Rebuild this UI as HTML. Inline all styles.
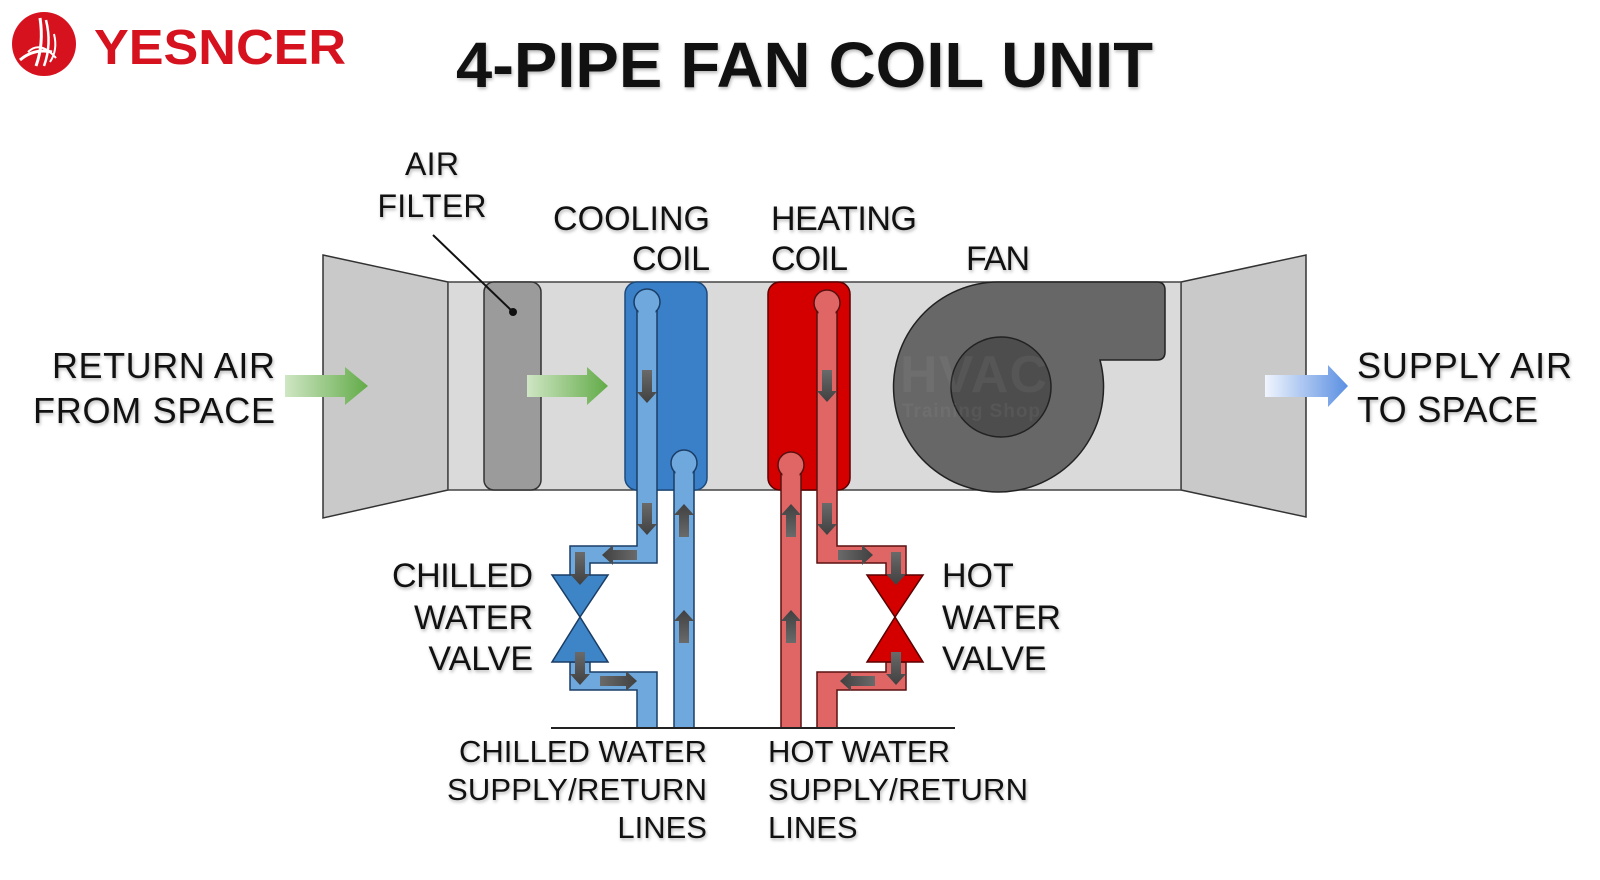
<!DOCTYPE html>
<html>
<head>
<meta charset="utf-8">
<style>
  html,body{margin:0;padding:0;background:#fff;}
  svg{display:block;}
  .t{font-family:"Liberation Sans",Arial,sans-serif;fill:#111;}
  .sh{filter:drop-shadow(1px 2px 1.5px rgba(0,0,0,0.28));}
</style>
</head>
<body>
<svg width="1600" height="880" viewBox="0 0 1600 880" xmlns="http://www.w3.org/2000/svg">
  <defs>
    <linearGradient id="gg" x1="0" y1="0" x2="1" y2="0">
      <stop offset="0" stop-color="#cfe6c4"/>
      <stop offset="1" stop-color="#62ab48"/>
    </linearGradient>
    <linearGradient id="bg" x1="0" y1="0" x2="1" y2="0">
      <stop offset="0" stop-color="#f1f5fd"/>
      <stop offset="1" stop-color="#5a8fe2"/>
    </linearGradient>
    <linearGradient id="ad" x1="0" y1="0" x2="0" y2="1">
      <stop offset="0" stop-color="#6a6a6a"/>
      <stop offset="1" stop-color="#404040"/>
    </linearGradient>
    <linearGradient id="au" x1="0" y1="1" x2="0" y2="0">
      <stop offset="0" stop-color="#6a6a6a"/>
      <stop offset="1" stop-color="#404040"/>
    </linearGradient>
    <linearGradient id="al" x1="1" y1="0" x2="0" y2="0">
      <stop offset="0" stop-color="#6a6a6a"/>
      <stop offset="1" stop-color="#404040"/>
    </linearGradient>
    <linearGradient id="ar" x1="0" y1="0" x2="1" y2="0">
      <stop offset="0" stop-color="#6a6a6a"/>
      <stop offset="1" stop-color="#404040"/>
    </linearGradient>
  </defs>

  <!-- Logo -->
  <circle cx="44" cy="44" r="32" fill="#d7121f"/>
  <path d="M20 60 Q34 48 52 52" stroke="#fff" stroke-width="3" fill="none"/>
  <path d="M36 66 Q44 44 40 18" stroke="#fff" stroke-width="3" fill="none"/>
  <path d="M44 66 Q52 44 46 20" stroke="#fff" stroke-width="2.5" fill="none"/>
  <path d="M50 62 Q58 50 54 34" stroke="#fff" stroke-width="2" fill="none"/>
  <path d="M28 52 Q40 40 56 58" stroke="#fff" stroke-width="2" fill="none"/>
  <text x="94" y="64" class="t" style="fill:#d7121f;font-size:49px;font-weight:600;" textLength="252" lengthAdjust="spacingAndGlyphs">YESNCER</text>

  <!-- Title -->
  <g class="sh">
    <text x="456" y="87" class="t" style="font-size:64px;font-weight:bold;" textLength="697" lengthAdjust="spacingAndGlyphs">4-PIPE FAN COIL UNIT</text>
  </g>

  <!-- Left trapezoid -->
  <polygon points="323,255 448,282 448,490 323,518" fill="#c9c9c9" stroke="#333" stroke-width="1.5"/>
  <!-- Right trapezoid -->
  <polygon points="1181,282 1306,255 1306,517 1181,490" fill="#c9c9c9" stroke="#333" stroke-width="1.5"/>
  <!-- Body -->
  <rect x="448" y="282" width="733" height="208" fill="#dadada" stroke="#444" stroke-width="1.5"/>

  <!-- Filter -->
  <rect x="484" y="282" width="57" height="208" rx="10" fill="#9b9b9b" stroke="#333" stroke-width="1.5"/>

  <!-- Cooling coil -->
  <rect x="625" y="282" width="82" height="208" rx="12" fill="#3a80c9" stroke="#1d4a7a" stroke-width="1.5"/>
  <!-- Heating coil -->
  <rect x="768" y="282" width="82" height="208" rx="12" fill="#d40000" stroke="#5a0000" stroke-width="1.5"/>

  <!-- Fan -->
  <path d="M998 282 L1157 282 Q1165 282 1165 290 L1165 352 Q1165 360 1157 360 L1100 360 A105 105 0 1 1 998 282 Z" fill="#676767" stroke="#222" stroke-width="1.5"/>
  <circle cx="1001" cy="387" r="50" fill="#4d4d4d" stroke="#222" stroke-width="1.5"/>
  <!-- watermark -->
  <text x="900" y="392" class="t" style="font-size:52px;font-weight:bold;fill:#fff;fill-opacity:0.05;" textLength="147">HVAC</text>
  <text x="902" y="417" class="t" style="font-size:19px;font-weight:bold;fill:#fff;fill-opacity:0.05;" textLength="138">Training Shop</text>

  <!-- Cooling pipes -->
  <g fill="#6fa8dc" stroke="#1a3d66" stroke-width="1.5">
    <path d="M637 302 L637 546 L570 546 L570 575 L590 575 L590 563 L657 563 L657 302 Z"/>
    <circle cx="647" cy="302" r="13"/>
    <rect x="638.5" y="303" width="17" height="20" stroke="none"/>
    <path d="M570 662 L570 690 L637 690 L637 728 L657 728 L657 672 L590 672 L590 662 Z"/>
    <rect x="674" y="463" width="20" height="265"/>
    <circle cx="684" cy="463" r="13"/>
    <rect x="675.5" y="464" width="17" height="20" stroke="none"/>
  </g>
  <!-- Hot pipes -->
  <g fill="#e06666" stroke="#5a1010" stroke-width="1.5">
    <path d="M817 303 L817 563 L886 563 L886 575 L906 575 L906 546 L837 546 L837 303 Z"/>
    <circle cx="827" cy="303" r="13"/>
    <rect x="818.5" y="304" width="17" height="20" stroke="none"/>
    <path d="M886 662 L886 672 L817 672 L817 728 L837 728 L837 690 L906 690 L906 662 Z"/>
    <rect x="781" y="465" width="20" height="263"/>
    <circle cx="791" cy="465" r="13"/>
    <rect x="782.5" y="466" width="17" height="20" stroke="none"/>
  </g>

  <!-- Valves -->
  <g fill="#3d85c6" stroke="#1a3d66" stroke-width="1.5">
    <polygon points="552,575 608,575 580,617"/>
    <polygon points="580,617 608,662 552,662"/>
  </g>
  <g fill="#d40000" stroke="#5a0000" stroke-width="1.5">
    <polygon points="867,575 923,575 895,617"/>
    <polygon points="895,617 923,662 867,662"/>
  </g>

  <!-- Bottom line -->
  <line x1="551" y1="728" x2="955" y2="728" stroke="#222" stroke-width="2"/>

  <!-- Flow arrows: down -->
  <g fill="url(#ad)">
    <path d="M642 370 h10 v22 h5 l-10 11 l-10 -11 h5 Z"/>
    <path d="M642 503 h10 v21 h5 l-10 11 l-10 -11 h5 Z"/>
    <path d="M575 552 h10 v22 h5 l-10 11 l-10 -11 h5 Z"/>
    <path d="M575 652 h10 v22 h5 l-10 11 l-10 -11 h5 Z"/>
    <path d="M822 370 h10 v21 h5 l-10 11 l-10 -11 h5 Z"/>
    <path d="M822 503 h10 v21 h5 l-10 11 l-10 -11 h5 Z"/>
    <path d="M891 552 h10 v22 h5 l-10 11 l-10 -11 h5 Z"/>
    <path d="M891 652 h10 v22 h5 l-10 11 l-10 -11 h5 Z"/>
  </g>
  <!-- up -->
  <g fill="url(#au)">
    <path d="M679 537 h10 v-22 h5 l-10 -11 l-10 11 h5 Z"/>
    <path d="M679 643 h10 v-22 h5 l-10 -11 l-10 11 h5 Z"/>
    <path d="M786 537 h10 v-22 h5 l-10 -11 l-10 11 h5 Z"/>
    <path d="M786 643 h10 v-22 h5 l-10 -11 l-10 11 h5 Z"/>
  </g>
  <!-- left -->
  <g fill="url(#al)">
    <path d="M637 550 v10 h-24 v5 l-11 -10 l11 -10 v5 Z"/>
    <path d="M875 676 v10 h-24 v5 l-11 -10 l11 -10 v5 Z"/>
  </g>
  <!-- right -->
  <g fill="url(#ar)">
    <path d="M600 676 v10 h26 v5 l11 -10 l-11 -10 v5 Z"/>
    <path d="M838 550 v10 h24 v5 l11 -10 l-11 -10 v5 Z"/>
  </g>

  <!-- Air arrows -->
  <path d="M285 375 L345 375 L345 367 L368 386 L345 405 L345 397 L285 397 Z" fill="url(#gg)"/>
  <path d="M527 375 L587 375 L587 367 L608 386 L587 405 L587 397 L527 397 Z" fill="url(#gg)"/>
  <path d="M1265 375 L1328 375 L1328 365 L1348 386 L1328 407 L1328 397 L1265 397 Z" fill="url(#bg)"/>

  <!-- Filter pointer -->
  <line x1="433" y1="235" x2="513" y2="312" stroke="#111" stroke-width="2"/>
  <circle cx="513" cy="312" r="4" fill="#111"/>

  <!-- Labels -->
  <g class="sh">
    <text x="432" y="175" class="t" text-anchor="middle" style="font-size:32px;" textLength="54">AIR</text>
    <text x="432" y="217" class="t" text-anchor="middle" style="font-size:32px;" textLength="109">FILTER</text>

    <text x="710" y="230" class="t" text-anchor="end" style="font-size:34px;" textLength="157">COOLING</text>
    <text x="710" y="270" class="t" text-anchor="end" style="font-size:34px;" textLength="78">COIL</text>

    <text x="771" y="230" class="t" style="font-size:34px;" textLength="146">HEATING</text>
    <text x="771" y="270" class="t" style="font-size:34px;" textLength="77">COIL</text>

    <text x="966" y="270" class="t" style="font-size:34px;" textLength="64">FAN</text>

    <text x="275" y="378" class="t" text-anchor="end" style="font-size:36px;" textLength="223">RETURN AIR</text>
    <text x="275" y="423" class="t" text-anchor="end" style="font-size:36px;" textLength="242">FROM SPACE</text>

    <text x="1357" y="378" class="t" style="font-size:36px;" textLength="215">SUPPLY AIR</text>
    <text x="1357" y="422" class="t" style="font-size:36px;" textLength="181">TO SPACE</text>

    <text x="533" y="587" class="t" text-anchor="end" style="font-size:34px;" textLength="141">CHILLED</text>
    <text x="533" y="629" class="t" text-anchor="end" style="font-size:34px;">WATER</text>
    <text x="533" y="670" class="t" text-anchor="end" style="font-size:34px;">VALVE</text>

    <text x="942" y="587" class="t" style="font-size:34px;">HOT</text>
    <text x="942" y="629" class="t" style="font-size:34px;">WATER</text>
    <text x="942" y="670" class="t" style="font-size:34px;">VALVE</text>

    <text x="707" y="762" class="t" text-anchor="end" style="font-size:31px;" textLength="248">CHILLED WATER</text>
    <text x="707" y="800" class="t" text-anchor="end" style="font-size:31px;" textLength="260">SUPPLY/RETURN</text>
    <text x="707" y="838" class="t" text-anchor="end" style="font-size:31px;">LINES</text>

    <text x="768" y="762" class="t" style="font-size:31px;">HOT WATER</text>
    <text x="768" y="800" class="t" style="font-size:31px;" textLength="260">SUPPLY/RETURN</text>
    <text x="768" y="838" class="t" style="font-size:31px;">LINES</text>
  </g>
</svg>
</body>
</html>
